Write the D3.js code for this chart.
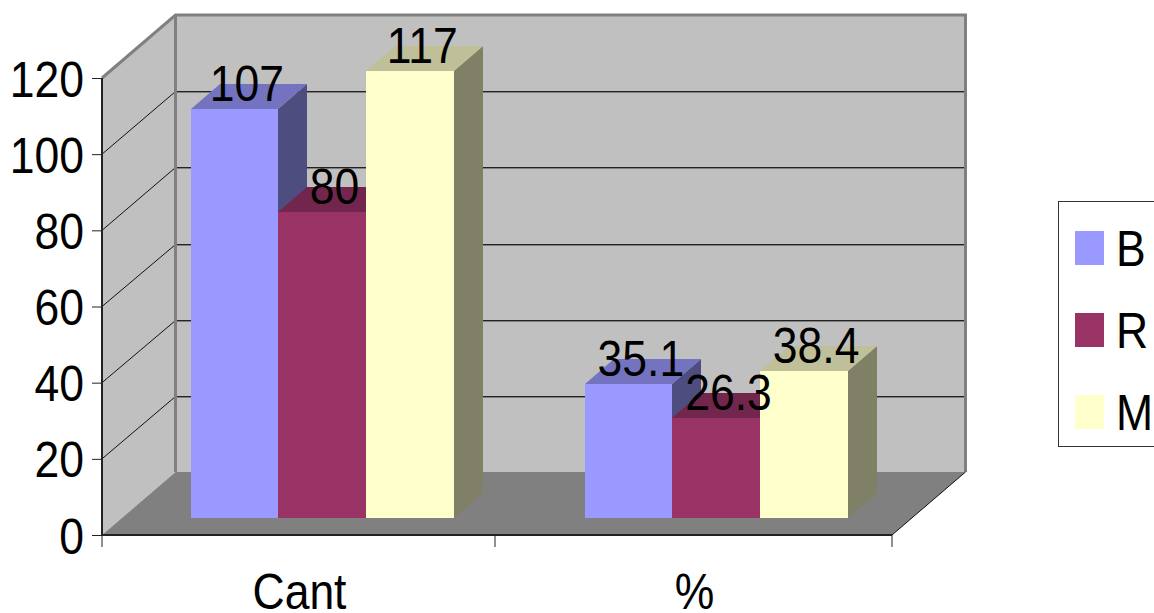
<!DOCTYPE html>
<html>
<head>
<meta charset="utf-8">
<script src="https://cdn.jsdelivr.net/npm/d3@7"></script>
<style>
  html, body { margin: 0; padding: 0; background: #fff; overflow: hidden; }
  svg { display: block; }
  text { font-family: "Liberation Sans", Arial, sans-serif; fill: #000; }
</style>
</head>
<body>
<svg id="chart" width="1154" height="613"></svg>
<script>
// Series values per category
const categories = ["Cant", "%"];
const seriesNames = ["B", "R", "M"];
const valuesB = [107, 35.1];
const valuesR = [80, 26.3];
const valuesM = [117, 38.4];
const yTicks = [0, 20, 40, 60, 80, 100, 120];

const frontColors = ["#9999ff", "#993366", "#ffffcc"];
const topColors = ["#7373bf", "#73264d", "#bfbf99"];
const sideColors = ["#4d4d80", "#4d1a33", "#808066"];

const series = [valuesB, valuesR, valuesM];
const svg = d3.select("#chart");

// Oblique projection of the chart box
const wallDx = 73.5, wallDy = -63;   // front plane to back wall
const sideDx = 29, sideDy = -25;     // depth of each bar
const squeeze = 0.89;                // narrow lettering

const y = d3.scaleLinear().domain([0, 120]).range([535, 78]);
// Bars stand further back than the axis plane, so they get their own baseline
const yBar = d3.scaleLinear().domain([0, 120]).range([518, 59.6]);

const categoryEdges = [102, 495, 892];
const x = d3.scaleOrdinal().domain(categories).range([191, 585]);
const xInner = d3.scaleBand().domain(seriesNames).range([0, 263]);

const poly = pts => pts.map(p => p.join(",")).join(" ");
const xL = categoryEdges[0], xR = categoryEdges[2];
const y0 = y(0), yMax = y(120);

// Walls and floor
svg.append("polygon").attr("fill", "#c0c0c0")
  .attr("points", poly([[xL + wallDx, yMax + wallDy], [xR + wallDx, yMax + wallDy], [xR + wallDx, y0 + wallDy], [xL + wallDx, y0 + wallDy]]));
svg.append("polygon").attr("fill", "#c0c0c0")
  .attr("points", poly([[xL, yMax], [xL + wallDx, yMax + wallDy], [xL + wallDx, y0 + wallDy], [xL, y0]]));
svg.append("polygon").attr("fill", "#808080")
  .attr("points", poly([[xL, y0], [xR, y0], [xR + wallDx, y0 + wallDy], [xL + wallDx, y0 + wallDy]]));

// Gridlines across the back wall and the left wall
const grid = svg.append("g");
yTicks.filter(t => t > 0 && t < 120).forEach(t => {
  const gy = Math.round(y(t) + wallDy) + 0.5;
  grid.append("line").attr("x1", xL + wallDx).attr("x2", xR + wallDx).attr("y1", gy + 1).attr("y2", gy + 1)
    .attr("stroke", "#808080").attr("stroke-width", 1);
  grid.append("line").attr("x1", xL + wallDx).attr("x2", xR + wallDx).attr("y1", gy).attr("y2", gy)
    .attr("stroke", "#222").attr("stroke-width", 1);
  grid.append("line").attr("x1", xL).attr("y1", y(t)).attr("x2", xL + wallDx).attr("y2", gy)
    .attr("stroke", "#111").attr("stroke-width", 1);
});

// Grey frame of the walls
svg.append("polyline").attr("fill", "none").attr("stroke", "#808080").attr("stroke-width", 3)
  .attr("points", poly([[xL, yMax], [xL + wallDx, yMax + wallDy], [xR + wallDx, yMax + wallDy], [xR + wallDx, y0 + wallDy]]));
svg.append("line").attr("stroke", "#808080").attr("stroke-width", 3)
  .attr("x1", xL + wallDx).attr("x2", xL + wallDx).attr("y1", yMax + wallDy).attr("y2", y0 + wallDy);
svg.append("line").attr("stroke", "#111").attr("stroke-width", 1)
  .attr("x1", xR).attr("y1", y0).attr("x2", xR + wallDx).attr("y2", y0 + wallDy);

// Bars: side and top faces first, then the front face
const bars = svg.append("g");
categories.forEach((cat, ci) => {
  seriesNames.forEach((name, si) => {
    const v = series[si][ci];
    const x0 = Math.floor(x(cat) + xInner(name));
    const x1 = Math.floor(x(cat) + xInner(name) + xInner.bandwidth());
    const top = Math.round(yBar(v)), bottom = yBar(0);
    const g = bars.append("g");
    g.append("polygon").attr("fill", sideColors[si])
      .attr("points", poly([[x1, top], [x1 + sideDx, top + sideDy], [x1 + sideDx, bottom + sideDy], [x1, bottom]]));
    g.append("polygon").attr("fill", topColors[si])
      .attr("points", poly([[x0, top], [x1, top], [x1 + sideDx, top + sideDy], [x0 + sideDx, top + sideDy]]));
    g.append("rect").attr("x", x0).attr("y", top).attr("width", x1 - x0).attr("height", bottom - top)
      .attr("fill", frontColors[si]);
  });
});

// Value labels sit above the top face of each bar
const labels = svg.append("g");
categories.forEach((cat, ci) => {
  seriesNames.forEach((name, si) => {
    const v = series[si][ci];
    const cx = x(cat) + xInner(name) + xInner.bandwidth() / 2 + 12;
    const by = yBar(v) - 8;
    labels.append("text")
      .attr("transform", `translate(${cx},${by}) scale(${squeeze},1)`)
      .attr("text-anchor", "middle").attr("font-size", 50).text(v);
  });
});

// Value axis on the front-left edge
const yAxis = svg.append("g").attr("transform", `translate(${xL},0)`)
  .call(d3.axisLeft(y).tickValues(yTicks).tickSize(10).tickPadding(0));
yAxis.select(".domain").attr("stroke", "#222").attr("stroke-width", 2).attr("d", `M0,${yMax}V${y0}`);
yAxis.selectAll(".tick line").attr("stroke", "#222");
yAxis.selectAll(".tick text")
  .attr("x", null).attr("dy", null).attr("font-size", 50).attr("text-anchor", "end")
  .attr("transform", `translate(-18,18) scale(${squeeze},1)`);

// Category axis on the front-bottom edge
const xAxis = svg.append("g").attr("transform", `translate(0,${y0})`);
xAxis.append("line").attr("x1", xL).attr("x2", xR).attr("y1", 0).attr("y2", 0)
  .attr("stroke", "#222").attr("stroke-width", 2);
xAxis.selectAll(".boundary").data(categoryEdges).enter().append("line")
  .attr("class", "boundary")
  .attr("x1", d => d).attr("x2", d => d)
  .attr("y1", 0).attr("y2", 12).attr("stroke", "#222");
xAxis.selectAll(".category").data(categories).enter().append("text")
  .attr("class", "category")
  .attr("text-anchor", "middle").attr("font-size", 50)
  .attr("transform", (d, i) => `translate(${(categoryEdges[i] + categoryEdges[i + 1]) / 2 + 1},74) scale(${squeeze},1)`)
  .text(d => d);

// Legend box, running off the right edge
const legend = svg.append("g");
legend.append("rect").attr("x", 1058.5).attr("y", 201.5).attr("width", 130).attr("height", 245)
  .attr("fill", "#fff").attr("stroke", "#333").attr("stroke-width", 1);
const legendY = d3.scalePoint().domain(seriesNames).range([248, 412]);
seriesNames.forEach((name, si) => {
  legend.append("rect").attr("x", 1075).attr("y", legendY(name) - 17).attr("width", 29).attr("height", 34)
    .attr("fill", frontColors[si]);
  legend.append("text")
    .attr("transform", `translate(1116,${legendY(name) + 18}) scale(${squeeze},1)`)
    .attr("font-size", 50).text(name);
});
</script>
</body>
</html>
